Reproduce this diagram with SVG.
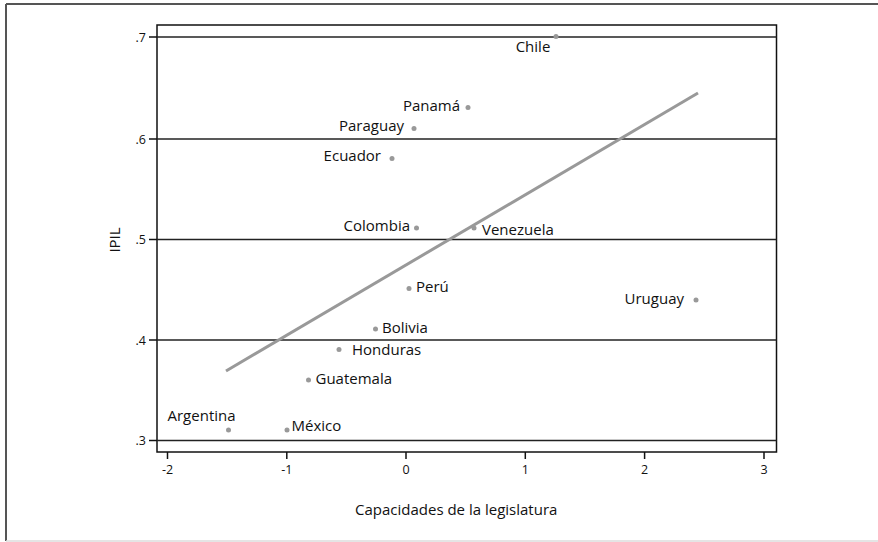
<svg xmlns="http://www.w3.org/2000/svg" width="878" height="542" viewBox="0 0 878 542">
<style>
.lbl{font-family:"Open Sans","Noto Sans",sans-serif;font-size:15px;fill:#111}
.tick{font-family:"Open Sans","Noto Sans",sans-serif;font-size:12.5px;fill:#111}
.grid{stroke:#222;stroke-width:1.3;fill:none}
.ax{stroke:#111;stroke-width:1.5;fill:none}
.pt{fill:#999}
</style>
<rect x="0" y="0" width="878" height="542" fill="#fff"/>
<g id="frame">
<line x1="6" y1="4" x2="878" y2="4" stroke="#555" stroke-width="2"/>
<line x1="6" y1="4" x2="6" y2="541" stroke="#555" stroke-width="2"/>
<line x1="6" y1="541" x2="878" y2="541" stroke="#ddd" stroke-width="1.5"/>
</g>
<g id="plot">
<rect x="157" y="25" width="619.5" height="427" class="ax"/>
<line x1="157" y1="37" x2="776.5" y2="37" class="grid"/>
<line x1="157" y1="139" x2="776.5" y2="139" class="grid"/>
<line x1="157" y1="239.5" x2="776.5" y2="239.5" class="grid"/>
<line x1="157" y1="340" x2="776.5" y2="340" class="grid"/>
<line x1="157" y1="440.5" x2="776.5" y2="440.5" class="grid"/>
</g>
<g id="y-axis">
<g class="ax">
<line x1="149" y1="37" x2="157" y2="37"/>
<line x1="149" y1="139" x2="157" y2="139"/>
<line x1="149" y1="239.5" x2="157" y2="239.5"/>
<line x1="149" y1="340" x2="157" y2="340"/>
<line x1="149" y1="440.5" x2="157" y2="440.5"/>
</g>
<text class="tick" x="146" y="41.5" text-anchor="end">.7</text>
<text class="tick" x="146" y="143.5" text-anchor="end">.6</text>
<text class="tick" x="146" y="244" text-anchor="end">.5</text>
<text class="tick" x="146" y="344.5" text-anchor="end">.4</text>
<text class="tick" x="146" y="445" text-anchor="end">.3</text>
<text class="lbl" transform="translate(120,240) rotate(-90)" text-anchor="middle">IPIL</text>
</g>
<g id="x-axis">
<g class="ax">
<line x1="167.5" y1="452" x2="167.5" y2="459"/>
<line x1="286.8" y1="452" x2="286.8" y2="459"/>
<line x1="406" y1="452" x2="406" y2="459"/>
<line x1="525.3" y1="452" x2="525.3" y2="459"/>
<line x1="644.6" y1="452" x2="644.6" y2="459"/>
<line x1="764" y1="452" x2="764" y2="459"/>
</g>
<text class="tick" x="167.5" y="474" text-anchor="middle">-2</text>
<text class="tick" x="286.8" y="474" text-anchor="middle">-1</text>
<text class="tick" x="406" y="474" text-anchor="middle">0</text>
<text class="tick" x="525.3" y="474" text-anchor="middle">1</text>
<text class="tick" x="644.6" y="474" text-anchor="middle">2</text>
<text class="tick" x="764" y="474" text-anchor="middle">3</text>
<text class="lbl" x="355" y="515">Capacidades de la legislatura</text>
</g>
<g id="connectors">
<line x1="226" y1="371" x2="698" y2="93" stroke="#999" stroke-width="3"/>
</g>
<g id="chile"><circle class="pt" cx="556" cy="36.5" r="2.5"/><text class="lbl" x="533" y="52" text-anchor="middle">Chile</text></g>
<g id="panama"><circle class="pt" cx="468" cy="107.5" r="2.5"/><text class="lbl" x="460" y="110.5" text-anchor="end">Panamá</text></g>
<g id="paraguay"><circle class="pt" cx="414" cy="128.5" r="2.5"/><text class="lbl" x="404" y="131" text-anchor="end">Paraguay</text></g>
<g id="ecuador"><circle class="pt" cx="392" cy="158.5" r="2.5"/><text class="lbl" x="381" y="161" text-anchor="end">Ecuador</text></g>
<g id="colombia"><circle class="pt" cx="416.5" cy="228" r="2.5"/><text class="lbl" x="410" y="231" text-anchor="end">Colombia</text></g>
<g id="venezuela"><circle class="pt" cx="474" cy="228" r="2.5"/><text class="lbl" x="482" y="234.5">Venezuela</text></g>
<g id="peru"><circle class="pt" cx="409" cy="288.5" r="2.5"/><text class="lbl" x="416" y="292">Perú</text></g>
<g id="bolivia"><circle class="pt" cx="375.5" cy="329" r="2.5"/><text class="lbl" x="382" y="332.5">Bolivia</text></g>
<g id="honduras"><circle class="pt" cx="339" cy="349.5" r="2.5"/><text class="lbl" x="352" y="354.5">Honduras</text></g>
<g id="guatemala"><circle class="pt" cx="308.5" cy="380" r="2.5"/><text class="lbl" x="315.5" y="383.5">Guatemala</text></g>
<g id="uruguay"><circle class="pt" cx="696" cy="300" r="2.5"/><text class="lbl" x="684" y="303.5" text-anchor="end">Uruguay</text></g>
<g id="argentina"><circle class="pt" cx="228.5" cy="430" r="2.5"/><text class="lbl" x="167.5" y="421">Argentina</text></g>
<g id="mexico"><circle class="pt" cx="287" cy="430" r="2.5"/><text class="lbl" x="291.5" y="430.5">México</text></g>
</svg>
